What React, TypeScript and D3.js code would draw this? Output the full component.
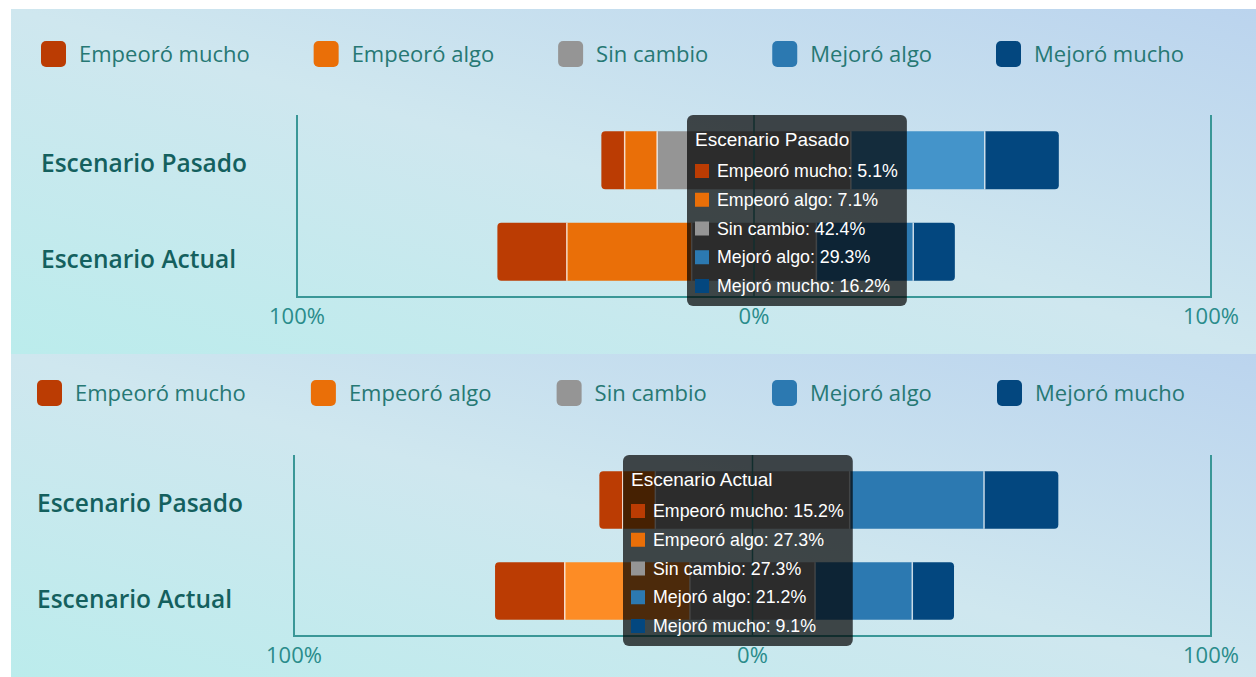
import React, { useEffect, useRef } from "react";
import * as d3 from "d3";

const categories = ["Escenario Pasado", "Escenario Actual"];
const seriesNames = ["Empeoró mucho", "Empeoró algo", "Sin cambio", "Mejoró algo", "Mejoró mucho"];
const pasadoValues = [5.1, 7.1, 42.4, 29.3, 16.2];
const actualValues = [15.2, 27.3, 27.3, 21.2, 9.1];
const seriesColors = ["#bb3c03", "#ea6f08", "#959595", "#2c79b1", "#03477f"];
const hoverColors = ["#d4561c", "#fd8c25", "#ababab", "#4494ca", "#1b5e97"];
const tickValues = [-100, 0, 100];
const tickLabels = ["100%", "0%", "100%"];

const W = 1256;
const H = 677;

const panels = [
  {
    top: 9, height: 345, legendY: 54, legendX0: 41, legendX1: 1184, labelX: 41,
    axisLeft: 297, axisRight: 1211, axisTop: 115, axisBottom: 297,
    hoverCat: 0, hoverSeries: 3, tipX: 687, tipY: 115,
  },
  {
    top: 354, height: 330, legendY: 393, legendX0: 37, legendX1: 1185, labelX: 37,
    axisLeft: 294, axisRight: 1211, axisTop: 455, axisBottom: 636,
    hoverCat: 1, hoverSeries: 1, tipX: 623, tipY: 455,
  },
];

const SANS = "'Open Sans', 'Noto Sans', sans-serif";
const ARIAL = "'Liberation Sans', Arial, sans-serif";

function barPath(x0: number, x1: number, y: number, h: number, rl: number, rr: number) {
  const p = d3.path();
  p.moveTo(x0 + rl, y);
  p.lineTo(x1 - rr, y);
  if (rr) p.arcTo(x1, y, x1, y + rr, rr);
  p.lineTo(x1, y + h - rr);
  if (rr) p.arcTo(x1, y + h, x1 - rr, y + h, rr);
  p.lineTo(x0 + rl, y + h);
  if (rl) p.arcTo(x0, y + h, x0, y + h - rl, rl);
  p.lineTo(x0, y + rl);
  if (rl) p.arcTo(x0, y, x0 + rl, y, rl);
  p.closePath();
  return p.toString();
}

export default function App() {
  const ref = useRef<SVGSVGElement | null>(null);

  useEffect(() => {
    const svg = d3.select(ref.current);
    svg.selectAll("*").remove();
    const values = [pasadoValues, actualValues];

    const defs = svg.append("defs");
    const grad = defs.append("linearGradient").attr("id", "bg").attr("x1", 0).attr("y1", 1).attr("x2", 1).attr("y2", 0);
    grad.append("stop").attr("offset", "0%").attr("stop-color", "#bbecec");
    grad.append("stop").attr("offset", "50%").attr("stop-color", "#cfe7ef");
    grad.append("stop").attr("offset", "100%").attr("stop-color", "#bbd4ee");

    svg.append("rect").attr("width", W).attr("height", H).attr("fill", "#ffffff");

    panels.forEach((pc) => {
      const g = svg.append("g");
      g.append("rect").attr("x", 11).attr("y", pc.top).attr("width", W - 11).attr("height", pc.height).attr("fill", "url(#bg)");

      // legend
      const items = g.append("g");
      const widths: number[] = [];
      seriesNames.forEach((n) => {
        const t = items.append("text").attr("font-family", SANS).attr("font-size", 22).text(n);
        widths.push((t.node() as SVGTextElement).getComputedTextLength());
        t.remove();
      });
      const total = d3.sum(widths) + seriesNames.length * 38;
      const gap = (pc.legendX1 - pc.legendX0 - total) / (seriesNames.length - 1);
      let lx = pc.legendX0;
      seriesNames.forEach((n, i) => {
        items.append("rect").attr("x", lx).attr("y", pc.legendY - 13).attr("width", 25).attr("height", 26)
          .attr("rx", 5).attr("fill", seriesColors[i]);
        items.append("text").attr("x", lx + 38).attr("y", pc.legendY).attr("dy", "0.35em")
          .attr("font-family", SANS).attr("font-size", 22).attr("fill", "#267874").text(n);
        lx += 38 + widths[i] + gap;
      });

      const x = d3.scaleLinear().domain([-100, 100]).range([pc.axisLeft, pc.axisRight]);
      const y = d3.scaleBand<string>().domain(categories).range([pc.axisTop, pc.axisBottom])
        .paddingInner(0.366).paddingOuter(0.178);

      // category labels
      categories.forEach((c, ci) => {
        g.append("text").attr("x", pc.labelX).attr("y", (y(c) as number) + y.bandwidth() / 2 + 3 + ci * 5).attr("dy", "0.35em")
          .attr("font-family", SANS).attr("font-weight", 600).attr("font-size", 24.5).attr("fill", "#14605e").text(c);
      });

      // bars
      categories.forEach((c, ci) => {
        const v = values[ci];
        let start = -(v[0] + v[1] + v[2] / 2);
        const by = y(c) as number;
        const bh = y.bandwidth();
        const bounds: number[] = [];
        v.forEach((val, si) => {
          const x0 = x(start);
          const x1 = x(start + val);
          const hovered = pc.hoverCat === ci && pc.hoverSeries === si;
          g.append("path")
            .attr("d", barPath(x0, x1, by, bh, si === 0 ? 4 : 0, si === v.length - 1 ? 4 : 0))
            .attr("fill", hovered ? hoverColors[si] : seriesColors[si]);
          if (si > 0) bounds.push(x0);
          start += val;
        });
        bounds.forEach((bx) => {
          g.append("line").attr("x1", bx).attr("x2", bx).attr("y1", by).attr("y2", by + bh)
            .attr("stroke", "#ffffff").attr("stroke-opacity", 0.75).attr("stroke-width", 1.5);
        });
      });

      // axes
      const axisColor = "#3a9797";
      g.append("path")
        .attr("d", `M${x(-100)},${pc.axisTop}V${pc.axisBottom}H${x(100)}V${pc.axisTop}`)
        .attr("fill", "none").attr("stroke", axisColor).attr("stroke-width", 2);
      g.append("line").attr("x1", x(0)).attr("x2", x(0)).attr("y1", pc.axisTop).attr("y2", pc.axisBottom)
        .attr("stroke", axisColor).attr("stroke-width", 1.5);
      tickValues.forEach((tv, i) => {
        g.append("text").attr("x", x(tv)).attr("y", pc.axisBottom + 19).attr("dy", "0.35em")
          .attr("text-anchor", "middle").attr("font-family", SANS).attr("font-size", 22)
          .attr("fill", "#2a8c8b").text(tickLabels[i]);
      });

      // tooltip
      const tv = values[pc.hoverCat];
      const tip = g.append("g");
      const box = tip.append("rect").attr("x", pc.tipX).attr("y", pc.tipY).attr("height", 191)
        .attr("rx", 6).attr("fill", "#000000").attr("fill-opacity", 0.7);
      tip.append("text").attr("x", pc.tipX + 8).attr("y", pc.tipY + 24).attr("dy", "0.35em")
        .attr("font-family", ARIAL).attr("font-size", 19).attr("fill", "#ffffff").text(categories[pc.hoverCat]);
      let maxW = 0;
      seriesNames.forEach((n, i) => {
        const ry = pc.tipY + 56 + i * 28.75;
        tip.append("rect").attr("x", pc.tipX + 8).attr("y", ry - 7).attr("width", 14).attr("height", 14)
          .attr("fill", seriesColors[i]);
        const t = tip.append("text").attr("x", pc.tipX + 30).attr("y", ry).attr("dy", "0.35em")
          .attr("font-family", ARIAL).attr("font-size", 17.8).attr("fill", "#ffffff")
          .text(`${n}: ${tv[i].toFixed(1)}%`);
        maxW = Math.max(maxW, (t.node() as SVGTextElement).getComputedTextLength());
      });
      box.attr("width", 30 + maxW + 9);
    });
  }, []);

  return (
    <svg ref={ref} width={W} height={H} style={{ position: "absolute", left: 0, top: 0, display: "block" }} />
  );
}
